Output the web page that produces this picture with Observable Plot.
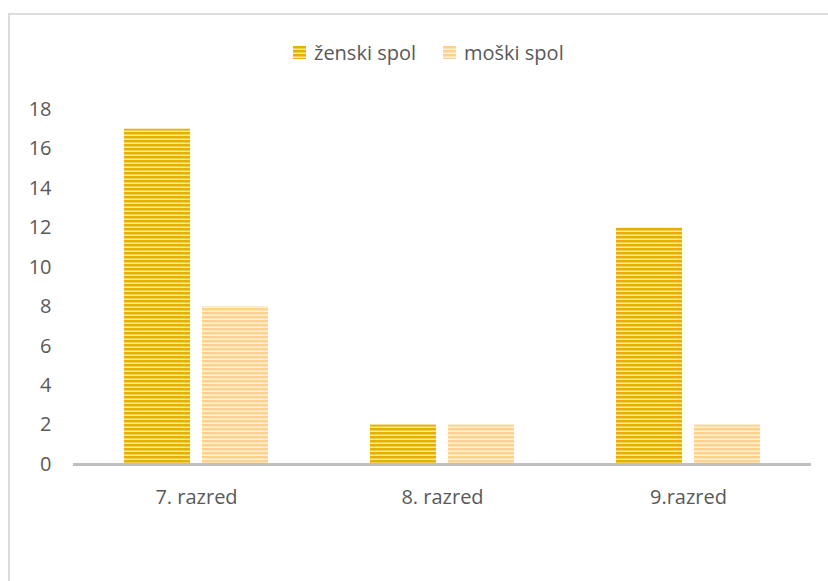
<!DOCTYPE html>
<html>
<head>
<meta charset="utf-8">
<script src="https://cdn.jsdelivr.net/npm/d3@7"></script>
<script src="https://cdn.jsdelivr.net/npm/@observablehq/plot@0.6"></script>
<style>
  html, body { margin: 0; padding: 0; background: #fff; overflow: hidden; }
  body { width: 828px; height: 581px; position: relative; font-family: "Open Sans", sans-serif; }
  #frame { position: absolute; left: 8px; top: 13px; width: 860px; height: 640px; border: 2px solid #dcdcdc; box-sizing: border-box; }
  #legend { position: relative; height: 80px; font-size: 20px; color: #595959; }
  .item { position: absolute; top: 38px; display: flex; align-items: center; height: 28px; }
  .item svg { margin-right: 8px; }
  #chart { position: relative; }
</style>
</head>
<body>
<div id="frame"></div>
<svg width="0" height="0" style="position:absolute">
  <defs>
    <pattern id="pDark" patternUnits="userSpaceOnUse" width="4" height="4">
      <rect x="0" y="0" width="4" height="4" fill="#e8ae00"/>
      <rect x="0" y="2" width="4" height="1" fill="#f3cb4e"/>
      <rect x="0" y="3" width="4" height="1" fill="#fde9ae"/>
    </pattern>
    <pattern id="pLight" patternUnits="userSpaceOnUse" width="4" height="4">
      <rect x="0" y="0" width="4" height="4" fill="#ffd28c"/>
      <rect x="0" y="2" width="4" height="1" fill="#ffe2b3"/>
      <rect x="0" y="3" width="4" height="1" fill="#fff1da"/>
    </pattern>
  </defs>
</svg>
<div id="legend"></div>
<div id="chart"></div>
<script>
const categories = ["7. razred", "8. razred", "9.razred"];
const seriesNames = ["ženski spol", "moški spol"];
const zenski = [17, 2, 12];
const moski = [8, 2, 2];
const yTicks = [0, 2, 4, 6, 8, 10, 12, 14, 16, 18];
const fills = ["url(#pDark)", "url(#pLight)"];

const data = [];
categories.forEach((c, i) => {
  data.push({razred: c, spol: seriesNames[0], value: zenski[i]});
  data.push({razred: c, spol: seriesNames[1], value: moski[i]});
});

// legend
const legend = document.getElementById("legend");
const legendX = [293, 443];
seriesNames.forEach((s, i) => {
  const d = document.createElement("div");
  d.className = "item";
  d.style.left = legendX[i] + "px";
  d.innerHTML = `<svg width="13" height="13"><rect width="13" height="13" fill="${fills[i]}"/></svg><span>${s}</span>`;
  legend.appendChild(d);
});

const chart = Plot.plot({
  width: 828,
  height: 501,
  marginLeft: 72,
  marginRight: 16,
  marginTop: 29,
  marginBottom: 117,
  style: {fontFamily: "Open Sans, sans-serif", fontSize: "20px", color: "#595959", background: "transparent"},
  fx: {domain: categories, padding: 0, axis: "bottom", tickSize: 0, tickPadding: 25, label: null},
  x: {domain: seriesNames, paddingInner: 0.16, paddingOuter: 0.65, axis: null},
  y: {domain: [0, 18], ticks: yTicks, tickSize: 0, tickPadding: 22, label: null, axis: "left"},
  color: {type: "ordinal", domain: seriesNames, range: fills},
  marks: [
    Plot.barY(data, {fx: "razred", x: "spol", y: "value", fill: "spol"}),
    Plot.ruleY([0], {stroke: "#bfbfbf", strokeWidth: 3})
  ]
});
document.getElementById("chart").appendChild(chart);
</script>
</body>
</html>
